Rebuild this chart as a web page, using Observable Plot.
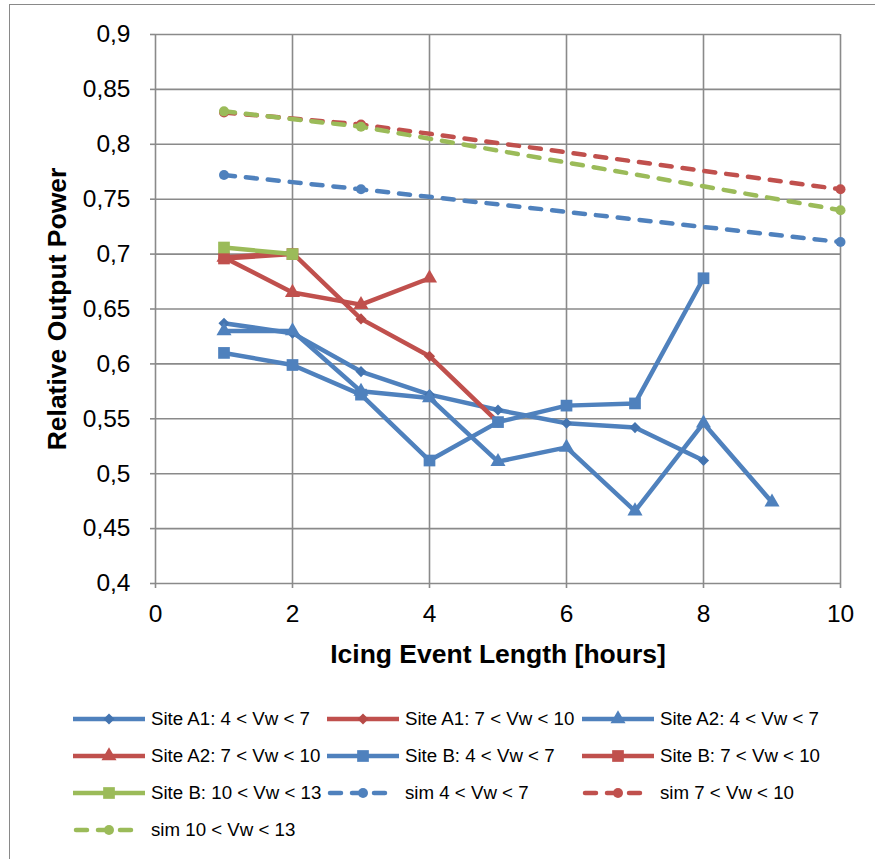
<!DOCTYPE html>
<html><head><meta charset="utf-8">
<script src="https://cdn.jsdelivr.net/npm/d3@7"></script>
<script src="https://cdn.jsdelivr.net/npm/@observablehq/plot@0.6"></script>
<style>
body{margin:0;background:#fff;width:875px;height:859px;overflow:hidden;position:relative;font-family:"Liberation Sans",Arial,sans-serif;}
#frame{position:absolute;left:9px;top:4px;width:900px;height:900px;border:1.5px solid #898989;box-sizing:border-box;}
#chart{position:absolute;left:0;top:0;}
.leg{position:absolute;display:flex;align-items:center;font-size:18.7px;height:30px;white-space:nowrap;color:#000;}
.leg svg{display:block;margin-right:6px;}
</style></head><body>
<div id="frame"></div><div id="chart"></div><div id="legend"></div>
<script>
// ---- data ----
const hours = [1, 2, 3, 4, 5, 6, 7, 8, 9];
const simHours = [1, 3, 10];

const siteA1Low  = [0.637, 0.628, 0.593, 0.572, 0.558, 0.546, 0.542, 0.512];
const siteA1High = [0.697, 0.701, 0.641, 0.607, 0.547];
const siteA2Low  = [0.630, 0.630, 0.575, 0.569, 0.511, 0.524, 0.466, 0.546, 0.474];
const siteA2High = [0.697, 0.665, 0.654, 0.678];
const siteBLow   = [0.610, 0.599, 0.572, 0.512, 0.547, 0.562, 0.564, 0.678];
const siteBHigh  = [0.696, 0.700];
const siteBTop   = [0.706, 0.700];
const sim4  = [0.772, 0.759, 0.711];
const sim7  = [0.829, 0.818, 0.759];
const sim10 = [0.830, 0.816, 0.740];

const seriesNames = [
  "Site A1: 4 < Vw < 7", "Site A1: 7 < Vw < 10", "Site A2: 4 < Vw < 7",
  "Site A2: 7 < Vw < 10", "Site B: 4 < Vw < 7", "Site B: 7 < Vw < 10",
  "Site B: 10 < Vw < 13", "sim 4 < Vw < 7", "sim 7 < Vw < 10", "sim 10 < Vw < 13"
];

const xTicks = [0, 2, 4, 6, 8, 10];
const yTicks = [0.4, 0.45, 0.5, 0.55, 0.6, 0.65, 0.7, 0.75, 0.8, 0.85, 0.9];
const xLabel = "Icing Event Length [hours]";
const yLabel = "Relative Output Power";

// ---- styles ----
const BLUE = "#4F81BD", RED = "#C0504D", GREEN = "#9BBB59";
const BLUE_D = "#4374B0", RED_D = "#B74A47";
const symR = {diamond2: 5.0, square: 6.6, triangle: 5.6, circle: 5.0};

const series = [
  {name: seriesNames[0], xs: hours,    ys: siteA1Low,  color: BLUE,  mfill: BLUE_D, symbol: "diamond2", dashed: false},
  {name: seriesNames[1], xs: hours,    ys: siteA1High, color: RED,   mfill: RED_D,  symbol: "diamond2", dashed: false},
  {name: seriesNames[2], xs: hours,    ys: siteA2Low,  color: BLUE,  mfill: BLUE,   symbol: "triangle", dashed: false},
  {name: seriesNames[3], xs: hours,    ys: siteA2High, color: RED,   mfill: RED,    symbol: "triangle", dashed: false},
  {name: seriesNames[4], xs: hours,    ys: siteBLow,   color: BLUE,  mfill: BLUE,   symbol: "square",   dashed: false},
  {name: seriesNames[5], xs: hours,    ys: siteBHigh,  color: RED,   mfill: RED,    symbol: "square",   dashed: false},
  {name: seriesNames[6], xs: hours,    ys: siteBTop,   color: GREEN, mfill: GREEN,  symbol: "square",   dashed: false},
  {name: seriesNames[7], xs: simHours, ys: sim4,       color: BLUE,  mfill: BLUE,   symbol: "circle",   dashed: true},
  {name: seriesNames[8], xs: simHours, ys: sim7,       color: RED,   mfill: RED,    symbol: "circle",   dashed: true},
  {name: seriesNames[9], xs: simHours, ys: sim10,      color: GREEN, mfill: GREEN,  symbol: "circle",   dashed: true}
];
series.forEach(s => s.rows = s.ys.map((v, j) => ({x: s.xs[j], y: v, series: s.name})));

const fmt = d => String(+d.toFixed(2)).replace(".", ",");
const GRID = "#8a8a8a";
const DASH = "11,11";

const seriesMarks = series.flatMap(s => [
  Plot.line(s.rows, {x: "x", y: "y", stroke: s.color, strokeWidth: 4.5,
    strokeLinejoin: "round", strokeLinecap: s.dashed ? "round" : "butt",
    strokeDasharray: s.dashed ? DASH : null}),
  Plot.dot(s.rows, {x: "x", y: "y", symbol: s.symbol, r: symR[s.symbol], fill: s.mfill, stroke: "none"})
]);

const chart = Plot.plot({
  width: 875, height: 690,
  marginLeft: 155, marginRight: 35, marginTop: 34, marginBottom: 107,
  style: {fontFamily: "'Liberation Sans', Arial, sans-serif", fontSize: "24px", color: "#000", background: "transparent", overflow: "visible"},
  x: {domain: [0, 10]},
  y: {domain: [0.4, 0.9]},
  marks: [
    Plot.gridX(xTicks, {stroke: GRID, strokeOpacity: 1, strokeWidth: 1.6}),
    Plot.gridY(yTicks, {stroke: GRID, strokeOpacity: 1, strokeWidth: 1.6}),
    Plot.axisX(xTicks, {tickSize: 5, tickPadding: 16, stroke: GRID, strokeWidth: 1.6, color: "#000", fill: "#000", tickFormat: d => String(d), fontSize: 24.5, label: null}),
    Plot.axisY(yTicks, {tickSize: 5, tickPadding: 20, stroke: GRID, strokeWidth: 1.6, color: "#000", fill: "#000", tickFormat: fmt, fontSize: 24.5, label: null}),
    ...seriesMarks,
    Plot.text([xLabel], {text: d => d, frameAnchor: "bottom", dy: 71, fontSize: 26.5, fontWeight: "bold", textAnchor: "middle", lineAnchor: "middle", fill: "#000"}),
    Plot.text([yLabel], {text: d => d, frameAnchor: "left", dx: -98, rotate: -90, fontSize: 26.5, fontWeight: "bold", textAnchor: "middle", lineAnchor: "middle", fill: "#000"})
  ]
});
document.getElementById("chart").appendChild(chart);

// ---- legend (HTML, 3 columns) ----
const colX = [73, 327, 582];
const rowY = [719, 756, 793, 830];
const legend = document.getElementById("legend");
const d3sym = {diamond2: d3.symbolDiamond2, square: d3.symbolSquare, triangle: d3.symbolTriangle, circle: d3.symbolCircle};
series.forEach((s, i) => {
  const col = i % 3, row = Math.floor(i / 3);
  const div = document.createElement("div");
  div.className = "leg";
  div.style.left = colX[col] + "px";
  div.style.top = (rowY[row] - 15) + "px";
  const svg = d3.create("svg").attr("width", 72).attr("height", 30);
  if (s.dashed) {
    svg.append("line").attr("x1", 3).attr("x2", 69).attr("y1", 15).attr("y2", 15)
      .attr("stroke", s.color).attr("stroke-width", 4.5).attr("stroke-linecap", "round").attr("stroke-dasharray", DASH);
  } else {
    svg.append("line").attr("x1", 0).attr("x2", 72).attr("y1", 15).attr("y2", 15)
      .attr("stroke", s.color).attr("stroke-width", 4.5);
  }
  const r = symR[s.symbol];
  svg.append("path").attr("transform", "translate(36,15)")
    .attr("d", d3.symbol(d3sym[s.symbol], Math.PI * r * r)())
    .attr("fill", s.mfill);
  div.appendChild(svg.node());
  const span = document.createElement("span");
  span.textContent = s.name;
  div.appendChild(span);
  legend.appendChild(div);
});
</script>
</body></html>
